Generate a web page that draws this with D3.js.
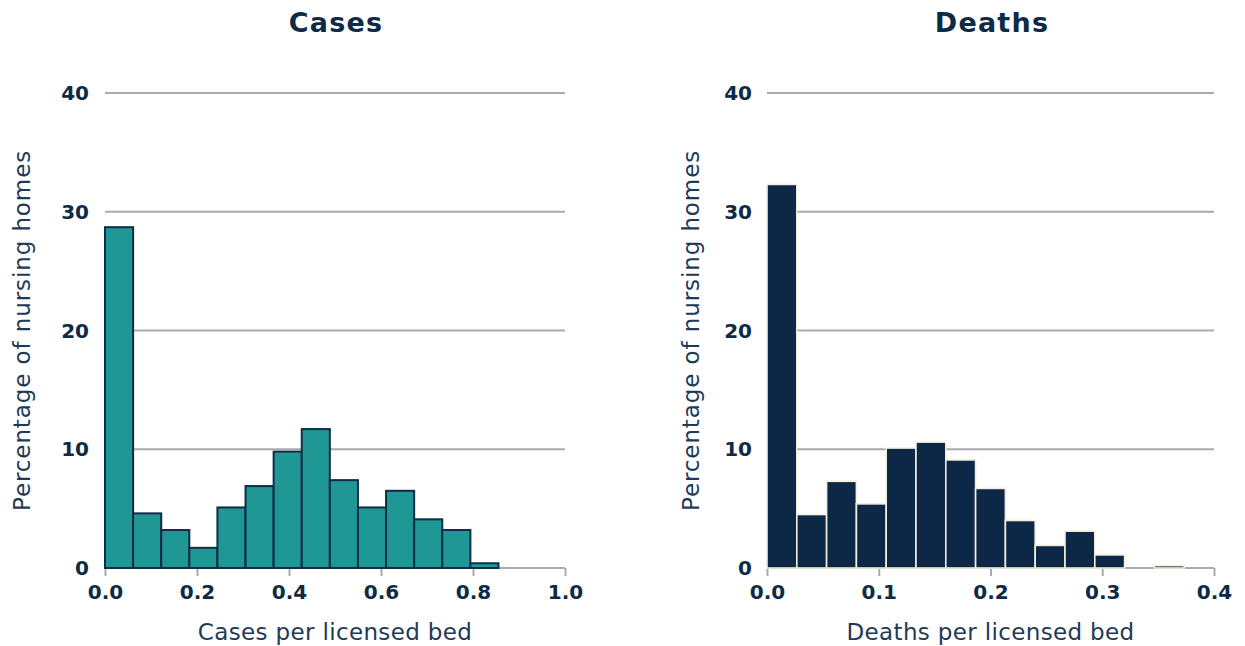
<!DOCTYPE html>
<html>
<head>
<meta charset="utf-8">
<script src="https://cdn.jsdelivr.net/npm/d3@7"></script>
<style>
  html, body { margin: 0; padding: 0; background: #ffffff; }
  svg { display: block; font-family: "DejaVu Sans", sans-serif; }
</style>
</head>
<body>
<svg id="chart" width="1245" height="646"></svg>
<script>
// ---- Data ----
const casesBinWidth = 0.0611;
const casesValues = [28.7, 4.6, 3.2, 1.7, 5.1, 6.9, 9.8, 11.7, 7.4, 5.1, 6.5, 4.1, 3.2, 0.4];
const casesXTicks = [0.0, 0.2, 0.4, 0.6, 0.8, 1.0];

const deathsBinWidth = 0.4 / 15;
const deathsValues = [32.3, 4.5, 7.3, 5.4, 10.1, 10.6, 9.1, 6.7, 4.0, 1.9, 3.1, 1.1, 0, 0.2, 0];
const deathsXTicks = [0.0, 0.1, 0.2, 0.3, 0.4];

const yTicks = [0, 10, 20, 30, 40];

const panels = [
  { title: "Cases", xLabel: "Cases per licensed bed", values: casesValues, binWidth: casesBinWidth,
    xDomain: [0, 1.0], xTicks: casesXTicks, left: 105, right: 565, titleX: 336,
    fill: "#1f9794", stroke: "#0f2c48", strokeWidth: 2, yLabelX: 30, tickLabelX: 89 },
  { title: "Deaths", xLabel: "Deaths per licensed bed", values: deathsValues, binWidth: deathsBinWidth,
    xDomain: [0, 0.4], xTicks: deathsXTicks, left: 767, right: 1214, titleX: 992,
    fill: "#0d2846", stroke: "#f3eedd", strokeWidth: 1.6, yLabelX: 699, tickLabelX: 752 }
];

const navy = "#0d2b45";
const labelColor = "#1e3a56";
const gridColor = "#a9abae";
const plotTop = 93, plotBottom = 568;

const svg = d3.select("#chart");

panels.forEach(p => {
  const x = d3.scaleLinear().domain(p.xDomain).range([p.left, p.right]);
  const y = d3.scaleLinear().domain([0, 40]).range([plotBottom, plotTop]);
  const g = svg.append("g");

  // title
  g.append("text").attr("x", p.titleX).attr("y", 32).attr("text-anchor", "middle")
    .attr("font-size", 27).attr("font-weight", 700).attr("letter-spacing", 1.2)
    .attr("fill", navy).text(p.title);

  // gridlines (except 0)
  g.selectAll("line.grid").data(yTicks.filter(d => d > 0)).join("line")
    .attr("class", "grid")
    .attr("x1", p.left).attr("x2", p.right)
    .attr("y1", d => y(d)).attr("y2", d => y(d))
    .attr("stroke", gridColor).attr("stroke-width", 2);

  // y tick labels
  g.selectAll("text.ytick").data(yTicks).join("text")
    .attr("class", "ytick")
    .attr("x", p.tickLabelX).attr("y", d => y(d)).attr("dy", "0.36em")
    .attr("text-anchor", "end").attr("font-size", 20).attr("font-weight", 700)
    .attr("fill", navy).text(d => d);

  // x axis
  const xAxis = d3.axisBottom(x).tickValues(p.xTicks).tickFormat(d3.format(".1f"))
    .tickSize(8).tickPadding(9);
  const ax = g.append("g").attr("transform", `translate(0,${plotBottom})`).call(xAxis);
  ax.select(".domain").attr("stroke", gridColor).attr("stroke-width", 2)
    .attr("d", `M${p.left},0H${p.right}`);
  ax.selectAll(".tick line").attr("stroke", gridColor).attr("stroke-width", 2);
  ax.selectAll(".tick text").attr("font-size", 20).attr("font-weight", 700)
    .attr("fill", navy).attr("font-family", "'DejaVu Sans', sans-serif");

  // bars
  const bins = p.values.map((v, i) => ({ x0: i * p.binWidth, x1: (i + 1) * p.binWidth, v }));
  g.selectAll("rect.bar").data(bins.filter(b => b.v > 0)).join("rect")
    .attr("class", "bar")
    .attr("x", b => x(b.x0)).attr("width", b => x(b.x1) - x(b.x0))
    .attr("y", b => y(b.v)).attr("height", b => y(0) - y(b.v))
    .attr("fill", p.fill).attr("stroke", p.stroke).attr("stroke-width", p.strokeWidth);

  // x label
  g.append("text").attr("x", (p.left + p.right) / 2).attr("y", 640).attr("text-anchor", "middle")
    .attr("font-size", 23).attr("letter-spacing", 0.35).attr("fill", labelColor).text(p.xLabel);

  // y label
  g.append("text").attr("transform", `translate(${p.yLabelX},${(plotTop + plotBottom) / 2}) rotate(-90)`)
    .attr("text-anchor", "middle").attr("font-size", 23).attr("letter-spacing", 0.9)
    .attr("fill", labelColor)
    .text("Percentage of nursing homes");
});
</script>
</body>
</html>
